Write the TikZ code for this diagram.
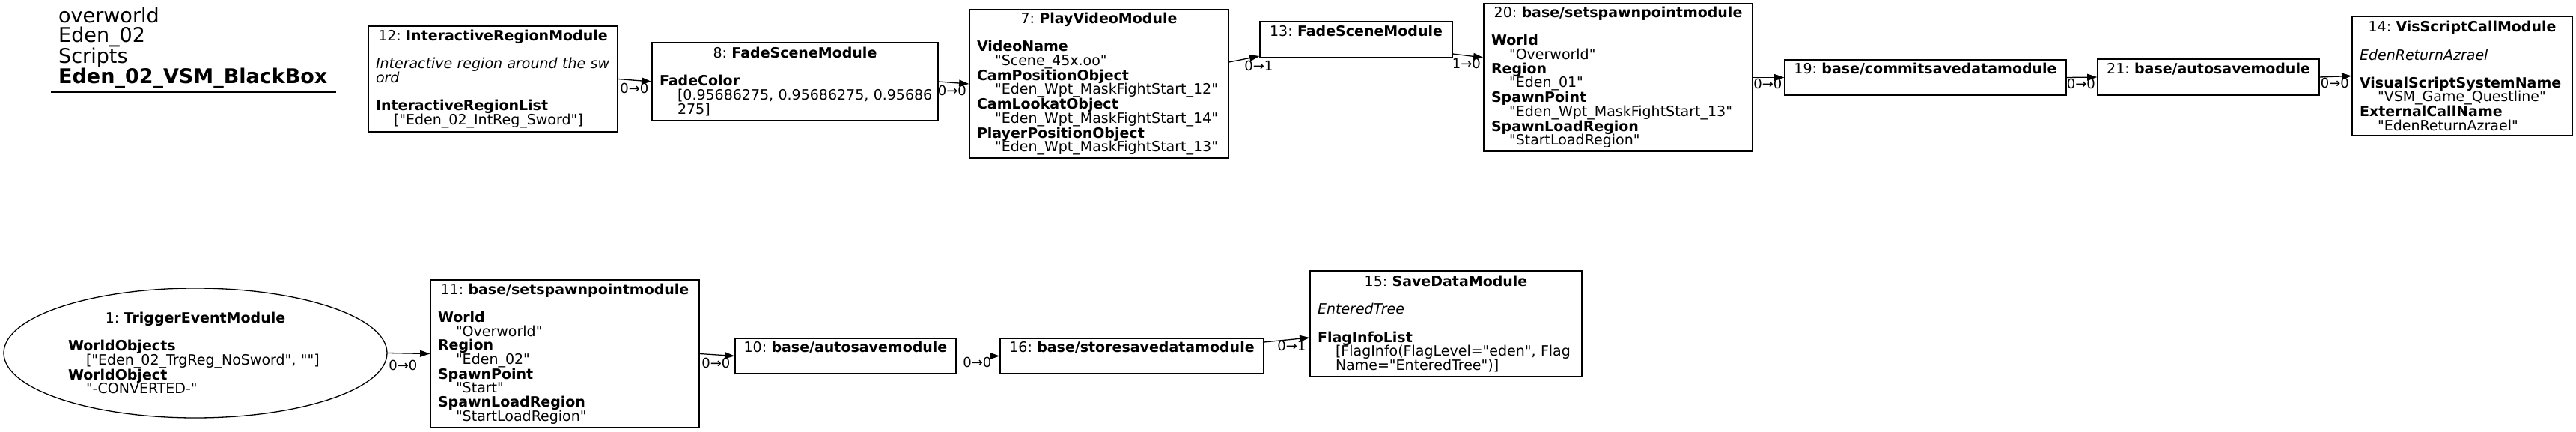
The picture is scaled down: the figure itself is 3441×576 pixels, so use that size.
\documentclass[tikz,border=0pt]{standalone}
\usepackage{fontspec}
\setmainfont{DejaVu Sans}[Ligatures=TeXOff]
\usetikzlibrary{arrows.meta,shapes.geometric}
\frenchspacing

\newcommand{\modfont}{\fontsize{19}{18.6}\selectfont}
\newcommand{\mtitle}[2]{\makebox[\linewidth][c]{#1: \textbf{#2}}}
\newcommand{\mkey}[1]{\mbox{\textbf{#1}}}
\newcommand{\mval}[1]{\mbox{\hspace*{24pt}#1}}
\newcommand{\mnote}[1]{\mbox{\itshape #1}}

\begin{document}
\begin{tikzpicture}[x=1pt, y=1pt,
  box/.style 2 args={draw, line width=1.3pt, rectangle, inner xsep=10pt, inner ysep=0pt,
    text width=#1pt, minimum height=#2, align=left, font=\modfont},
  link/.style={-{Triangle[length=13.3pt,width=8.9pt]}, line width=1.3pt},
  lbl/.style={font=\fontsize{18}{18}\selectfont, inner sep=0pt}]

\useasboundingbox (0,0) rectangle (3441,576);

% header
\node [anchor=north west, inner sep=0pt, align=left, font=\fontsize{27}{26.7}\selectfont] (hdr) at (78,566.5)
  {overworld\\Eden\_02\\Scripts\\\textbf{Eden\_02\_VSM\_BlackBox}};
\draw [line width=1.3pt] (68,453) -- (449,453);

% upper chain
\node [box={313}{141}] (b12) at (658.5,470.5) {\mtitle{12}{InteractiveRegionModule}\\ \mbox{}\\
  \mnote{Interactive region around the sw}\\ \mnote{ord}\\ \mbox{}\\
  \mkey{InteractiveRegionList}\\ \mval{["Eden\_02\_IntReg\_Sword"]}};
\node [box={362}{104}] (b8) at (1062,467) {\mtitle{8}{FadeSceneModule}\\ \mbox{}\\
  \mkey{FadeColor}\\ \mval{[0.95686275, 0.95686275, 0.95686}\\ \mval{275]}};
\node [box={326}{198}] (b7) at (1468,464) {\mtitle{7}{PlayVideoModule}\\ \mbox{}\\
  \mkey{VideoName}\\ \mval{"Scene\_45x.oo"}\\
  \mkey{CamPositionObject}\\ \mval{"Eden\_Wpt\_MaskFightStart\_12"}\\
  \mkey{CamLookatObject}\\ \mval{"Eden\_Wpt\_MaskFightStart\_14"}\\
  \mkey{PlayerPositionObject}\\ \mval{"Eden\_Wpt\_MaskFightStart\_13"}};
\node [box={237}{48}] (b13) at (1811.5,523) {\mtitle{13}{FadeSceneModule}\\ \strut};
\node [box={339}{197}] (b20) at (2161.5,472.5) {\mtitle{20}{base/setspawnpointmodule}\\ \mbox{}\\
  \mkey{World}\\ \mval{"Overworld"}\\
  \mkey{Region}\\ \mval{"Eden\_01"}\\
  \mkey{SpawnPoint}\\ \mval{"Eden\_Wpt\_MaskFightStart\_13"}\\
  \mkey{SpawnLoadRegion}\\ \mval{"StartLoadRegion"}};
\node [box={356}{47}] (b19) at (2572,472.5) {\mtitle{19}{base/commitsavedatamodule}\\ \strut};
\node [box={276}{48}] (b21) at (2950,473) {\mtitle{21}{base/autosavemodule}\\ \strut};
\node [box={274}{159}] (b14) at (3289,474.5) {\mtitle{14}{VisScriptCallModule}\\ \mbox{}\\
  \mnote{EdenReturnAzrael}\\ \mbox{}\\
  \mkey{VisualScriptSystemName}\\ \mval{"VSM\_Game\_Questline"}\\
  \mkey{ExternalCallName}\\ \mval{"EdenReturnAzrael"}};

% lower chain
\node [ellipse, draw, line width=1.3pt, minimum width=512pt, minimum height=173pt, inner sep=0pt,
  text width=340pt, align=left, font=\modfont] (e1) at (261,104.5) {\mtitle{1}{TriggerEventModule}\\ \mbox{}\\
  \mkey{WorldObjects}\\ \mval{["Eden\_02\_TrgReg\_NoSword", ""]}\\
  \mkey{WorldObject}\\ \mval{"-CONVERTED-"}};
\node [box={339}{197}] (b11) at (754.5,103.5) {\mtitle{11}{base/setspawnpointmodule}\\ \mbox{}\\
  \mkey{World}\\ \mval{"Overworld"}\\
  \mkey{Region}\\ \mval{"Eden\_02"}\\
  \mkey{SpawnPoint}\\ \mval{"Start"}\\
  \mkey{SpawnLoadRegion}\\ \mval{"StartLoadRegion"}};
\node [box={275}{47}] (b10) at (1129.5,100.5) {\mtitle{10}{base/autosavemodule}\\ \strut};
\node [box={332}{47}] (b16) at (1512,100.5) {\mtitle{16}{base/storesavedatamodule}\\ \strut};
\node [box={343}{141}] (b15) at (1931.5,143.5) {\mtitle{15}{SaveDataModule}\\ \mbox{}\\
  \mnote{EnteredTree}\\ \mbox{}\\
  \mkey{FlagInfoList}\\ \mval{[FlagInfo(FlagLevel="eden", Flag}\\ \mval{Name="EnteredTree")]}};

% links
\draw [link] (b12.east) -- (b8.west) node [lbl, xshift=-23, yshift=-9] {0→0};
\draw [link] (b8.east) -- (b7.west) node [lbl, xshift=-22.5, yshift=-8.5] {0→0};
\draw [link] ([yshift=29]b7.east) -- ([yshift=-22]b13.west) node [lbl, xshift=-1, yshift=-13] {0→1};
\draw [link] ([yshift=-19]b13.east) -- ([yshift=26.5]b20.west) node [lbl, xshift=-22.5, yshift=-7.5] {1→0};
\draw [link] (b20.east) -- (b19.west) node [lbl, xshift=-22, yshift=-8.5] {0→0};
\draw [link] (b19.east) -- (b21.west) node [lbl, xshift=-21.5, yshift=-8.5] {0→0};
\draw [link] (b21.east) -- (b14.west) node [lbl, xshift=-22.5, yshift=-9] {0→0};

\draw [link] (e1.east) -- (b11.west) node [lbl, xshift=-36, yshift=-15] {0→0};
\draw [link] (b11.east) -- (b10.west) node [lbl, xshift=-25, yshift=-9.5] {0→0};
\draw [link] (b10.east) -- (b16.west) node [lbl, xshift=-30, yshift=-8.5] {0→0};
\draw [link] ([yshift=18.5]b16.east) -- ([yshift=-18.5]b15.west) node [lbl, xshift=-24, yshift=-10.5] {0→1};
\end{tikzpicture}
\end{document}
